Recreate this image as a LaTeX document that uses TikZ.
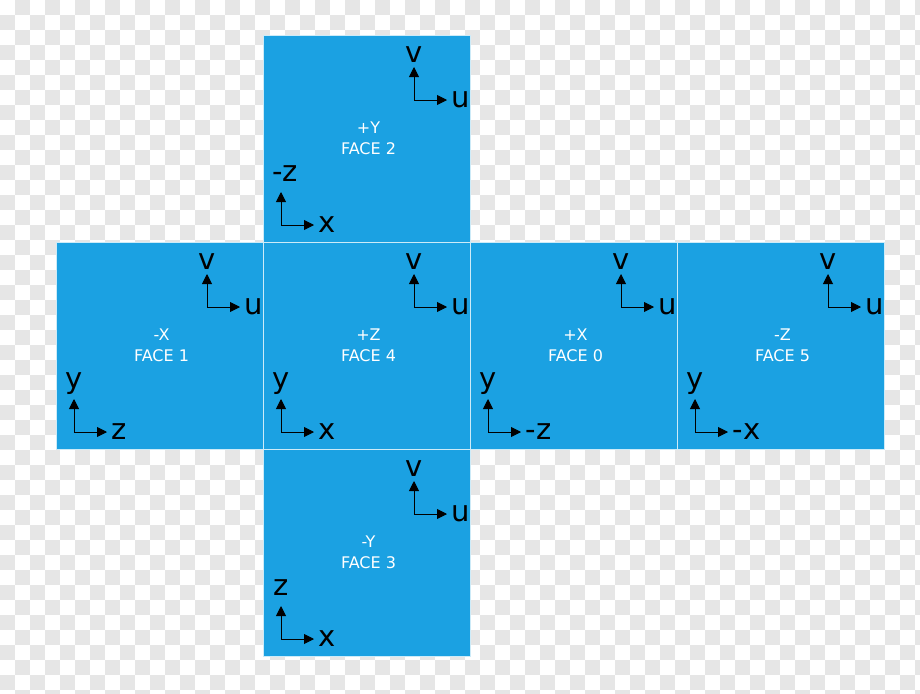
\documentclass[tikz,border=0pt]{standalone}
\usepackage{fontspec}
\setmainfont{DejaVu Sans}
\usepackage{tikz}
\usetikzlibrary{arrows.meta, positioning}
\usepackage{xcolor}
\definecolor{faceblue}{HTML}{1BA1E2}
\definecolor{faceedge}{HTML}{CDEBF8}
\definecolor{checker}{HTML}{E6E6E6}

\begin{document}
\begin{tikzpicture}[x=1pt,y=-1pt,
  face/.style={draw=faceedge, line width=0.8pt, fill=faceblue, minimum size=207pt, inner sep=0pt, outer sep=0pt},
  facelabel/.style={text=white, align=center, font=\fontsize{16}{21}\selectfont},
  axis/.style={line width=0.9pt, -{Triangle[length=10pt,width=10pt]}},
  axlabel/.style={inner sep=4.5pt, font=\fontsize{29}{29}\selectfont},
  lowlabel/.style={axlabel, text depth=6pt}]

\clip (0,0) rectangle (920,693);
\foreach \i in {0,2,...,60} \foreach \j in {1,3,...,45} \fill[checker] (15*\i,15*\j) rectangle +(15,15);
\foreach \i in {1,3,...,61} \foreach \j in {0,2,...,46} \fill[checker] (15*\i,15*\j) rectangle +(15,15);

% +Y, FACE 2
\node[face] (py) at (366.5,138.5) {};
\node[facelabel] at ([xshift=2pt]py) {+Y\\FACE 2};
\coordinate (pyA) at ([shift={(151,65)}]py.north west);
\coordinate (pyB) at ([shift={(18,190)}]py.north west);
\node[axlabel, above=33pt of pyA] (pyv) {v};
\node[axlabel, right=33pt of pyA] (pyu) {u};
\node[lowlabel, above=33pt of pyB, xshift=4pt] (pyl) {-z};
\node[axlabel, right=33pt of pyB] (pyr) {x};
\draw[axis] (pyA) -- (pyA |- pyv.south);
\draw[axis] (pyA) -- (pyA -| pyu.west);
\draw[axis] (pyB) -- (pyB |- pyl.south);
\draw[axis] (pyB) -- (pyB -| pyr.west);

% -X, FACE 1
\node[face] (nx) at (159.5,345.5) {};
\node[facelabel] at ([xshift=2pt]nx) {-X\\FACE 1};
\coordinate (nxA) at ([shift={(151,65)}]nx.north west);
\coordinate (nxB) at ([shift={(18,190)}]nx.north west);
\node[axlabel, above=33pt of nxA] (nxv) {v};
\node[axlabel, right=33pt of nxA] (nxu) {u};
\node[lowlabel, above=33pt of nxB] (nxl) {y};
\node[axlabel, right=33pt of nxB] (nxr) {z};
\draw[axis] (nxA) -- (nxA |- nxv.south);
\draw[axis] (nxA) -- (nxA -| nxu.west);
\draw[axis] (nxB) -- (nxB |- nxl.south);
\draw[axis] (nxB) -- (nxB -| nxr.west);

% +Z, FACE 4
\node[face] (pz) at (366.5,345.5) {};
\node[facelabel] at ([xshift=2pt]pz) {+Z\\FACE 4};
\coordinate (pzA) at ([shift={(151,65)}]pz.north west);
\coordinate (pzB) at ([shift={(18,190)}]pz.north west);
\node[axlabel, above=33pt of pzA] (pzv) {v};
\node[axlabel, right=33pt of pzA] (pzu) {u};
\node[lowlabel, above=33pt of pzB] (pzl) {y};
\node[axlabel, right=33pt of pzB] (pzr) {x};
\draw[axis] (pzA) -- (pzA |- pzv.south);
\draw[axis] (pzA) -- (pzA -| pzu.west);
\draw[axis] (pzB) -- (pzB |- pzl.south);
\draw[axis] (pzB) -- (pzB -| pzr.west);

% +X, FACE 0
\node[face] (px) at (573.5,345.5) {};
\node[facelabel] at ([xshift=2pt]px) {+X\\FACE 0};
\coordinate (pxA) at ([shift={(151,65)}]px.north west);
\coordinate (pxB) at ([shift={(18,190)}]px.north west);
\node[axlabel, above=33pt of pxA] (pxv) {v};
\node[axlabel, right=33pt of pxA] (pxu) {u};
\node[lowlabel, above=33pt of pxB] (pxl) {y};
\node[axlabel, right=33pt of pxB] (pxr) {-z};
\draw[axis] (pxA) -- (pxA |- pxv.south);
\draw[axis] (pxA) -- (pxA -| pxu.west);
\draw[axis] (pxB) -- (pxB |- pxl.south);
\draw[axis] (pxB) -- (pxB -| pxr.west);

% -Z, FACE 5
\node[face] (nz) at (780.5,345.5) {};
\node[facelabel] at ([xshift=2pt]nz) {-Z\\FACE 5};
\coordinate (nzA) at ([shift={(151,65)}]nz.north west);
\coordinate (nzB) at ([shift={(18,190)}]nz.north west);
\node[axlabel, above=33pt of nzA] (nzv) {v};
\node[axlabel, right=33pt of nzA] (nzu) {u};
\node[lowlabel, above=33pt of nzB] (nzl) {y};
\node[axlabel, right=33pt of nzB] (nzr) {-x};
\draw[axis] (nzA) -- (nzA |- nzv.south);
\draw[axis] (nzA) -- (nzA -| nzu.west);
\draw[axis] (nzB) -- (nzB |- nzl.south);
\draw[axis] (nzB) -- (nzB -| nzr.west);

% -Y, FACE 3
\node[face] (ny) at (366.5,552.5) {};
\node[facelabel] at ([xshift=2pt]ny) {-Y\\FACE 3};
\coordinate (nyA) at ([shift={(151,65)}]ny.north west);
\coordinate (nyB) at ([shift={(18,190)}]ny.north west);
\node[axlabel, above=33pt of nyA] (nyv) {v};
\node[axlabel, right=33pt of nyA] (nyu) {u};
\node[lowlabel, above=33pt of nyB] (nyl) {z};
\node[axlabel, right=33pt of nyB] (nyr) {x};
\draw[axis] (nyA) -- (nyA |- nyv.south);
\draw[axis] (nyA) -- (nyA -| nyu.west);
\draw[axis] (nyB) -- (nyB |- nyl.south);
\draw[axis] (nyB) -- (nyB -| nyr.west);

\end{tikzpicture}
\end{document}
